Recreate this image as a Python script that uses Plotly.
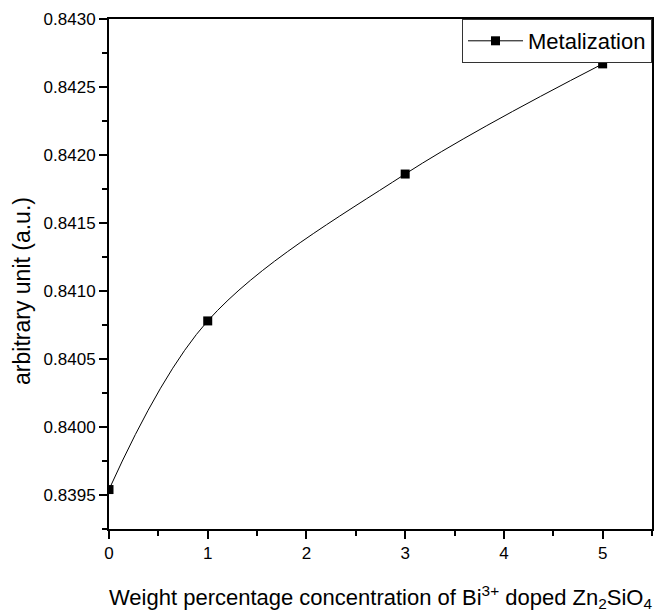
import plotly.graph_objects as go

x_vals = [0, 1, 3, 5]
y_vals = [0.83954, 0.84078, 0.84186, 0.84267]
series_name = "Metalization"
x_title = "Weight percentage concentration of Bi<sup>3+</sup> doped Zn<sub>2</sub>SiO<sub>4</sub>"
y_title = "arbitrary unit (a.u.)"
x_ticks = [0, 1, 2, 3, 4, 5]
y_ticks = [0.8395, 0.8400, 0.8405, 0.8410, 0.8415, 0.8420, 0.8425, 0.8430]

fig = go.Figure()
fig.add_trace(go.Scatter(
    x=x_vals, y=y_vals, name=series_name, mode="lines+markers",
    line=dict(color="black", width=1, shape="spline", smoothing=1.0),
    marker=dict(symbol="square", size=9, color="black"),
))

font = "Liberation Sans, Arial, sans-serif"
fig.update_layout(
    width=659, height=614,
    margin=dict(l=109, r=5, t=19, b=85),
    paper_bgcolor="white", plot_bgcolor="white",
    font=dict(family=font, color="black", size=16),
    showlegend=True,
    legend=dict(
        x=1, y=1, xanchor="right", yanchor="top",
        bordercolor="#333", borderwidth=1, bgcolor="white",
        font=dict(size=22, family=font),
        itemwidth=55, tracegroupgap=0,
    ),
    annotations=[dict(
        text=y_title, textangle=-90, showarrow=False,
        xref="paper", yref="paper", x=-0.16, y=0.467,
        xanchor="center", yanchor="middle",
        font=dict(size=23, family=font),
    )],
)
fig.update_xaxes(
    range=[0, 5.5], tickvals=x_ticks,
    ticks="outside", ticklen=8, tickwidth=2, tickcolor="black",
    minor=dict(dtick=0.5, tick0=0, ticks="outside", ticklen=5, tickwidth=2, tickcolor="black"),
    showline=True, linecolor="black", linewidth=2, mirror=True,
    showgrid=False, zeroline=False,
    tickfont=dict(size=17),
    title=dict(text=x_title, font=dict(size=22), standoff=27),
)
fig.update_yaxes(
    range=[0.83925, 0.8430], tickvals=y_ticks, tickformat=".4f",
    ticks="outside", ticklen=8, tickwidth=2, tickcolor="black",
    minor=dict(dtick=0.00025, tick0=0.8395, ticks="outside", ticklen=5, tickwidth=2, tickcolor="black"),
    showline=True, linecolor="black", linewidth=2, mirror=True,
    showgrid=False, zeroline=False,
    tickfont=dict(size=17),
)
fig.write_html("out.html")
